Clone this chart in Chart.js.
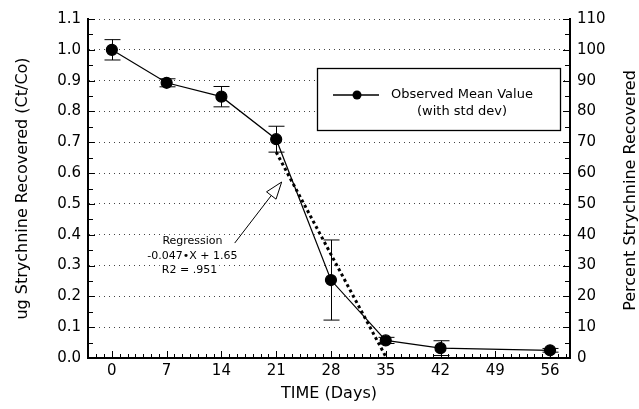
<!DOCTYPE html>
<html>
<head>
<meta charset="utf-8">
<script src="https://cdn.jsdelivr.net/npm/chart.js@4"></script>
<style>
  html, body { margin: 0; padding: 0; background: #fff; }
  #wrap { width: 639px; height: 409px; }
</style>
</head>
<body>
<div id="wrap"><canvas id="chartStrychnine"></canvas></div>
<script>
// observed data
var days = [0, 7, 14, 21, 28, 35, 42, 56];
var meanValues = [1.0, 0.893, 0.848, 0.71, 0.253, 0.057, 0.032, 0.025];
var stdDev = [0.033, 0.013, 0.033, 0.042, 0.13, 0.01, 0.024, 0.006];

// regression line endpoints (-0.047*X + 1.65)
var regDays = [21, 35.1];
var regValues = [0.668, 0];

// tick labels
var xTicks = [0, 7, 14, 21, 28, 35, 42, 49, 56];
var yTicks = [0, 0.1, 0.2, 0.3, 0.4, 0.5, 0.6, 0.7, 0.8, 0.9, 1.0, 1.1];
var y2Ticks = [0, 10, 20, 30, 40, 50, 60, 70, 80, 90, 100, 110];

// annotation (data coords)
var arrowTail = { x: 15.7, y: 0.373 };
var arrowTip = { x: 21.7, y: 0.571 };
var regLabelPos = { x: 10.3, y: 0.38 };
var regLabels = ['Regression', '-0.047\u2022X + 1.65', 'R2 = .951'];

var FONT = '"DejaVu Sans", sans-serif';

var extras = {
	id: 'extras',
	beforeDatasetsDraw: function(chart) {
		var ctx = chart.ctx, x = chart.scales.x, y = chart.scales.y;
		ctx.save();
		// white behind the regression text, covers grid dots
		ctx.fillStyle = '#fff';
		ctx.font = '11px ' + FONT;
		var lx = x.getPixelForValue(regLabelPos.x), ly = y.getPixelForValue(regLabelPos.y);
		var offs = [0, 15, 29], shift = [0, 0, -3];
		for (var k = 0; k < regLabels.length; k++) {
			var w = ctx.measureText(regLabels[k]).width + 4;
			ctx.fillRect(lx + shift[k] - w / 2, ly + offs[k] - 6, w, 12);
		}
		// white legend box
		ctx.fillRect(317.5, 68.5, 243, 62);

		ctx.strokeStyle = '#000';
		ctx.lineWidth = 1;
		for (var i = 0; i < days.length; i++) {
			var px = Math.round(x.getPixelForValue(days[i])) + 0.5;
			var top = y.getPixelForValue(meanValues[i] + stdDev[i]);
			var bot = y.getPixelForValue(meanValues[i] - stdDev[i]);
			ctx.beginPath();
			ctx.moveTo(px, top); ctx.lineTo(px, bot);
			ctx.moveTo(px - 8, top); ctx.lineTo(px + 8, top);
			ctx.moveTo(px - 8, bot); ctx.lineTo(px + 8, bot);
			ctx.stroke();
		}
		ctx.restore();
	},
	afterDraw: function(chart) {
		var ctx = chart.ctx, x = chart.scales.x, y = chart.scales.y, y2 = chart.scales.y2;
		var area = chart.chartArea;
		ctx.save();
		ctx.strokeStyle = '#000';
		ctx.lineWidth = 1;
		// minor ticks on left / right axes
		ctx.beginPath();
		for (var v = 0; v <= 110; v += 5) {
			var py = Math.round(y2.getPixelForValue(v)) + 0.5;
			var len = (v % 10 === 0) ? 7 : 5;
			ctx.moveTo(area.left, py); ctx.lineTo(area.left + len, py);
			ctx.moveTo(area.right, py); ctx.lineTo(area.right - len, py);
		}
		// minor ticks on x axis, one per day
		for (var d = -2; d <= 58; d++) {
			var pxx = Math.round(x.getPixelForValue(d)) + 0.5;
			var l = (d % 7 === 0) ? 7 : 4;
			ctx.moveTo(pxx, area.bottom); ctx.lineTo(pxx, area.bottom - l);
		}
		ctx.stroke();

		// arrow
		var tx = x.getPixelForValue(arrowTail.x), ty = y.getPixelForValue(arrowTail.y);
		var hx = x.getPixelForValue(arrowTip.x), hy = y.getPixelForValue(arrowTip.y);
		var ang = Math.atan2(hy - ty, hx - tx);
		var hl = 17, hw = 6;
		var bx = hx - hl * Math.cos(ang), by = hy - hl * Math.sin(ang);
		ctx.beginPath();
		ctx.moveTo(tx, ty); ctx.lineTo(bx, by);
		ctx.stroke();
		ctx.beginPath();
		ctx.moveTo(hx, hy);
		ctx.lineTo(bx + hw * Math.sin(ang), by - hw * Math.cos(ang));
		ctx.lineTo(bx - hw * Math.sin(ang), by + hw * Math.cos(ang));
		ctx.closePath();
		ctx.fillStyle = '#fff';
		ctx.fill();
		ctx.stroke();

		// regression text
		ctx.fillStyle = '#000';
		ctx.font = '11px ' + FONT;
		ctx.textAlign = 'center';
		ctx.textBaseline = 'middle';
		var lx = x.getPixelForValue(regLabelPos.x), ly = y.getPixelForValue(regLabelPos.y);
		ctx.fillText(regLabels[0], lx, ly);
		ctx.fillText(regLabels[1], lx, ly + 15);
		ctx.fillText(regLabels[2], lx - 3, ly + 29);

		// legend box
		ctx.lineWidth = 1.3;
		ctx.strokeRect(317.5, 68.5, 243, 62);
		ctx.beginPath();
		ctx.moveTo(333, 95); ctx.lineTo(379, 95);
		ctx.stroke();
		ctx.beginPath();
		ctx.arc(357, 95, 4.5, 0, Math.PI * 2);
		ctx.fill();
		ctx.font = '13px ' + FONT;
		ctx.textAlign = 'left';
		ctx.fillText('Observed Mean Value', 391, 95);
		ctx.textAlign = 'center';
		ctx.fillText('(with std dev)', 462, 112);

		// right axis title
		ctx.font = '16px ' + FONT;
		ctx.translate(631, (area.top + area.bottom) / 2 + 2);
		ctx.rotate(-Math.PI / 2);
		ctx.textAlign = 'center';
		ctx.fillText('Percent Strychnine Recovered', 0, 0);
		ctx.restore();
	}
};

var ctx = document.getElementById('chartStrychnine').getContext('2d');
var chart = new Chart(ctx, {
	type: 'scatter',
	data: {
		datasets: [{
			label: 'Observed Mean Value (with std dev)',
			data: days.map(function(d, i) { return { x: d, y: meanValues[i] }; }),
			showLine: true,
			borderColor: '#000',
			backgroundColor: '#000',
			borderWidth: 1.2,
			pointRadius: 5.5,
			pointHoverRadius: 5.5,
			yAxisID: 'y'
		}, {
			label: 'Regression',
			data: regDays.map(function(d, i) { return { x: d, y: regValues[i] }; }),
			showLine: true,
			borderColor: '#000',
			borderWidth: 3,
			borderDash: [3, 3],
			pointRadius: 0,
			yAxisID: 'y'
		}]
	},
	options: {
		responsive: true,
		maintainAspectRatio: false,
		animation: false,
		layout: { padding: { top: 19, left: 0, right: 0, bottom: 0 } },
		plugins: {
			legend: { display: false },
			tooltip: { enabled: false }
		},
		scales: {
			x: {
				type: 'linear',
				min: -3.05,
				max: 58.55,
				afterBuildTicks: function(s) { s.ticks = xTicks.map(function(v) { return { value: v }; }); },
				afterFit: function(s) { s.height = 51; },
				ticks: { color: '#000', font: { family: FONT, size: 15 }, padding: 4 },
				grid: { display: false, drawTicks: false },
				border: { color: '#000', width: 2 },
				title: { display: true, text: 'TIME (Days)', color: '#000', font: { family: FONT, size: 16 }, padding: { top: 0, bottom: 6 } }
			},
			y: {
				position: 'left',
				min: 0,
				max: 1.1,
				afterBuildTicks: function(s) { s.ticks = yTicks.map(function(v) { return { value: v }; }); },
				afterFit: function(s) { s.width = 88; },
				ticks: { color: '#000', font: { family: FONT, size: 15 }, padding: 7, callback: function(v) { return v.toFixed(1); } },
				grid: { color: '#444', lineWidth: 1, drawTicks: false },
				border: { color: '#000', width: 2, dash: [1, 4] },
				title: { display: true, text: 'ug Strychnine Recovered (Ct/Co)', color: '#000', font: { family: FONT, size: 16 }, padding: { top: 13, bottom: 0 } }
			},
			y2: {
				position: 'right',
				min: 0,
				max: 110,
				afterBuildTicks: function(s) { s.ticks = y2Ticks.map(function(v) { return { value: v }; }); },
				afterFit: function(s) { s.width = 69; },
				ticks: { color: '#000', font: { family: FONT, size: 15 }, padding: 7 },
				grid: { display: false, drawTicks: false },
				border: { color: '#000', width: 2 }
			}
		}
	},
	plugins: [extras]
});
</script>
</body>
</html>
